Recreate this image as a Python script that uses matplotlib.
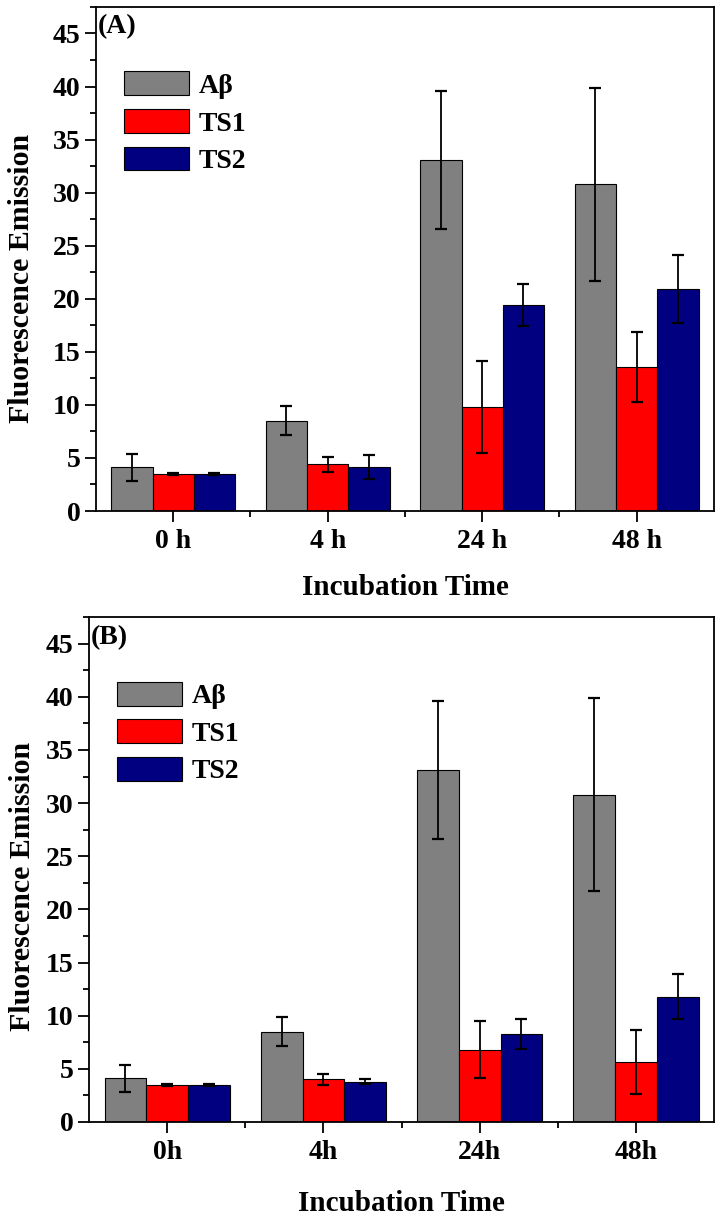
import numpy as np
import matplotlib
matplotlib.use('Agg')
import matplotlib.pyplot as plt
from matplotlib.ticker import MultipleLocator, FixedLocator

plt.rcParams['font.family'] = ['Liberation Serif', 'DejaVu Serif']
plt.rcParams['font.weight'] = 'bold'

# data
series = ['Aβ', 'TS1', 'TS2']
colors = ['#808080', '#ff0000', '#000080']

labels_a = ['0 h', '4 h', '24 h', '48 h']
abeta = [4.1, 8.5, 33.1, 30.8]
abeta_err = [1.3, 1.35, 6.5, 9.1]
ts1_a = [3.5, 4.4, 9.8, 13.6]
ts1_a_err = [0.1, 0.7, 4.3, 3.3]
ts2_a = [3.45, 4.15, 19.4, 20.9]
ts2_a_err = [0.1, 1.15, 2.0, 3.2]

labels_b = ['0h', '4h', '24h', '48h']
ts1_b = [3.5, 4.0, 6.8, 5.65]
ts1_b_err = [0.1, 0.5, 2.7, 3.0]
ts2_b = [3.45, 3.8, 8.25, 11.8]
ts2_b_err = [0.1, 0.25, 1.4, 2.15]


def draw_panel(ax, tag, xlabels, vals, errs, ylab_x, ylab_y, xlab_pad):
    x = np.arange(len(xlabels))
    w = 0.267
    for i, (v, e) in enumerate(zip(vals, errs)):
        ax.bar(x + (i - 1) * w, v, w, color=colors[i], edgecolor='black',
               linewidth=0.8, label=series[i], zorder=2)
        ax.errorbar(x + (i - 1) * w, v, yerr=e, fmt='none', ecolor='black',
                    elinewidth=1.3, capsize=4, capthick=1.6, zorder=3)
    ax.set_xlim(-0.5, 3.5)
    ax.set_ylim(0, 47.5)
    ax.yaxis.set_major_locator(MultipleLocator(5))
    ax.yaxis.set_minor_locator(MultipleLocator(2.5))
    ax.set_xticks(x)
    ax.set_xticklabels(xlabels)
    ax.xaxis.set_minor_locator(FixedLocator([0.5, 1.5, 2.5]))
    ax.tick_params(axis='both', which='major', direction='out', length=8,
                   width=1.3, labelsize=20, pad=3)
    ax.tick_params(axis='both', which='minor', direction='out', length=4.5,
                   width=1.3)
    ax.tick_params(axis='x', which='major', pad=5)
    for s in ax.spines.values():
        s.set_linewidth(1.3)
    ax.set_ylabel('Fluorescence Emission', fontsize=21.5, fontweight='bold')
    ax.yaxis.set_label_coords(ylab_x, ylab_y)
    ax.set_xlabel('Incubation Time', fontsize=21, fontweight='bold', labelpad=xlab_pad)
    ax.text(0.003, 0.985, tag, transform=ax.transAxes, fontsize=20,
            fontweight='bold', va='top', ha='left')
    ax.legend(loc='upper left', bbox_to_anchor=(0.045, 0.872), frameon=False,
              fontsize=20, handlelength=2.34, handleheight=0.95,
              labelspacing=0.36, handletextpad=0.36, borderaxespad=0,
              borderpad=0)


fig = plt.figure(figsize=(7.27, 12.19), dpi=100)
ax1 = fig.add_axes([0.132, 0.5808, 0.850, 0.4135])
ax2 = fig.add_axes([0.1224, 0.0796, 0.860, 0.4142])

draw_panel(ax1, '(A)', labels_a, [abeta, ts1_a, ts2_a],
           [abeta_err, ts1_a_err, ts2_a_err], -0.098, 0.462, 14)
draw_panel(ax2, '(B)', labels_b, [abeta, ts1_b, ts2_b],
           [abeta_err, ts1_b_err, ts2_b_err], -0.085, 0.467, 18)

fig.savefig('out.png', dpi=100)
